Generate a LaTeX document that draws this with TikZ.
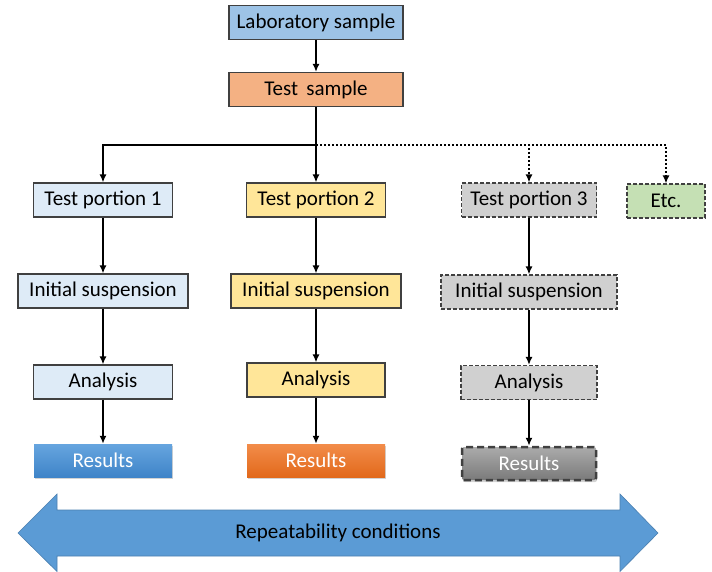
\documentclass[tikz,border=0pt]{standalone}
\usepackage{fontspec}
\setmainfont{Carlito}
\usetikzlibrary{arrows.meta,shadows}

\definecolor{labblue}{HTML}{9DC3E6}
\definecolor{testsalmon}{HTML}{F4B183}
\definecolor{onefill}{HTML}{DEEBF7}
\definecolor{twofill}{HTML}{FFE699}
\definecolor{threefill}{HTML}{D0D0D0}
\definecolor{etcfill}{HTML}{C5E0B4}
\definecolor{arrowblue}{HTML}{5B9BD5}
\definecolor{arrowedge}{HTML}{4A7FB0}
\definecolor{resbluetop}{HTML}{66A5DF}
\definecolor{resbluebot}{HTML}{3F84C8}
\definecolor{resorangetop}{HTML}{F28C4A}
\definecolor{resorangebot}{HTML}{E2691B}

\begin{document}
\begin{tikzpicture}[x=1pt,y=-1pt,
  box/.style={draw=black!75, line width=1.1pt, minimum height=34pt, inner sep=2pt,
    font=\fontsize{21}{24}\selectfont},
  dbox/.style={box, dash pattern=on 4pt off 2pt},
  res/.style={minimum height=33pt, minimum width=138pt, text=white,
    font=\fontsize{21}{24}\selectfont,
    drop shadow={shadow xshift=1pt,shadow yshift=-2pt,opacity=.35}},
  link/.style={line width=2pt, -{Latex[length=8pt,width=7pt]}},
  dlink/.style={link, dash pattern=on 2pt off 2pt}]

\useasboundingbox (0,0) rectangle (712,572);

% top of the tree
\node[box, fill=labblue, minimum width=174pt] (lab) at (316,22.5) {Laboratory sample};
\node[box, fill=testsalmon, minimum width=174pt] (test) at (316,89.5) {Test\, sample};
\coordinate (split) at (316,145);

% three portions and the rest
\node[box, fill=onefill, minimum width=139pt] (tp1) at (103,200) {Test portion 1};
\node[box, fill=twofill, minimum width=139pt] (tp2) at (316,200) {Test portion 2};
\node[dbox, fill=threefill, minimum width=135pt] (tp3) at (529,200) {Test portion 3};
\node[dbox, fill=etcfill, minimum width=78pt] (etc) at (666,201) {Etc.};

\node[box, fill=onefill, minimum width=170pt] (is1) at (103,291) {Initial suspension};
\node[box, fill=twofill, minimum width=170pt] (is2) at (316,291) {Initial suspension};
\node[dbox, fill=threefill, minimum width=176pt] (is3) at (529,292) {Initial suspension};

\node[box, fill=onefill, minimum width=139pt] (an1) at (103,382) {Analysis};
\node[box, fill=twofill, minimum width=138pt] (an2) at (316,380) {Analysis};
\node[dbox, fill=threefill, minimum width=136pt] (an3) at (529,382.5) {Analysis};

\node[res, top color=resbluetop, bottom color=resbluebot] (res1) at (103,460.5) {Results};
\node[res, top color=resorangetop, bottom color=resorangebot] (res2) at (316,460.5) {Results};
\node[res, minimum width=134pt, top color=black!33, bottom color=black!52,
  draw=black!75, line width=2.5pt, dash pattern=on 7pt off 4pt, rounded corners=2pt] (res3) at (529,463.5) {Results};

% connectors
\draw[link] (lab) -- (test);
\draw[line width=2pt] (test) -- (split);
\draw[dlink] (split) -| (etc);
\draw[dlink] (split) -| (tp3);
\draw[link] (split) -| (tp1);
\draw[link] (split) -- (tp2);
\draw[link] (tp1) -- (is1);
\draw[link] (tp2) -- (is2);
\draw[link] (tp3) -- (is3);
\draw[link] (is1) -- (an1);
\draw[link] (is2) -- (an2);
\draw[link] (is3) -- (an3);
\draw[link] (an1) -- (res1);
\draw[link] (an2) -- (res2);
\draw[link] (an3) -- (res3);

% repeatability arrow
\draw[fill=arrowblue, draw=arrowedge, line width=.6pt]
  (18,533) -- (57,494) -- (57,510) -- (620,510) -- (620,494) -- (658,533)
  -- (620,571.5) -- (620,556) -- (57,556) -- (57,571.5) -- cycle;
\node[font=\fontsize{21}{24}\selectfont] (rep) at (338,533) {Repeatability conditions};

\end{tikzpicture}
\end{document}
